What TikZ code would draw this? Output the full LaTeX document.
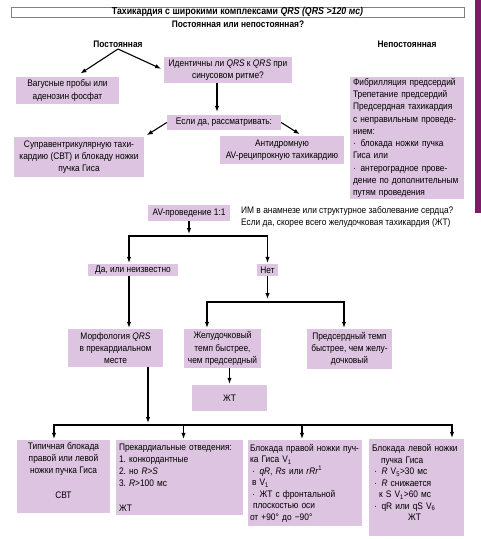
\documentclass[tikz,border=0pt]{standalone}
\usepackage{fontspec}
\setmainfont{Liberation Sans}[FakeStretch=0.88]
\usetikzlibrary{arrows.meta}

\definecolor{lilac}{RGB}{221,196,224}
\definecolor{plum}{RGB}{122,28,102}

\tikzset{
  box/.style={fill=lilac, inner sep=0pt, align=center},
  head/.style={font=\bfseries, inner sep=1.5pt},
  arr/.style={>={Latex[length=6pt,width=4.5pt]}, ->, line width=1.1pt},
}

\begin{document}
\frenchspacing
\fontsize{9.5}{12.3}\selectfont
\begin{tikzpicture}[x=1pt, y=-1pt]
\useasboundingbox (0,0) rectangle (481,539);
\fill[plum] (475,0) rectangle (481,213);

\node[draw=gray, line width=0.5pt, minimum width=453pt, minimum height=10pt, inner sep=0pt, font=\fontsize{10}{12}\selectfont\bfseries] (title) at (237.5,12) {Тахикардия с широкими комплексами \textit{QRS (QRS >120 мс)}};
\node[head] (question) at (238,24) {Постоянная или непостоянная?};
\node[head] (perm) at (118,44) {Постоянная};
\node[head] (nonperm) at (407,44) {Непостоянная};

\node[box, minimum width=103pt, minimum height=27pt] (vagus) at (67.5,90.5) {Вагусные пробы или\\аденозин фосфат};
\node[box, minimum width=128pt, minimum height=26pt] (ident) at (228,70) {Идентичны ли \textit{QRS} к \textit{QRS} при\\синусовом ритме?};
\node[box, minimum width=114pt, minimum height=15pt] (ifyes) at (224,122.5) {Если да, рассматривать:};
\node[box, minimum width=130pt, minimum height=40pt] (svt) at (79,157) {Суправентрикулярную тахи-\\кардию (СВТ) и блокаду ножки\\пучка Гиса};
\node[box, minimum width=124pt, minimum height=28pt] (antidr) at (282,150) {Антидромную\\AV-реципрокную тахикардию};
\node[box, text width=108pt, inner xsep=3pt, minimum height=122pt, align=left] (irreg) at (407,138) {Фибрилляция предсердий\\Трепетание предсердий\\Предсердная тахикардия\\с неправильным проведе-\\нием:\\·\enspace блокада ножки пучка\\Гиса или\\·\enspace антероградное прове-\\дение по дополнительным\\путям проведения};

\node[box, minimum width=82pt, minimum height=16pt] (avcond) at (189,213) {AV-проведение 1:1};
\node[anchor=west, inner sep=0pt, align=left] (history) at (241,217) {ИМ в анамнезе или структурное заболевание сердца?\\Если да, скорее всего желудочковая тахикардия (ЖТ)};
\node[box, minimum width=90pt, minimum height=12pt] (yesunk) at (133,270) {Да, или неизвестно};
\node[box, minimum width=21pt, minimum height=12pt] (no) at (267.5,270) {Нет};

\node[box, minimum width=95pt, minimum height=38pt] (morph) at (115.5,348) {Морфология \textit{QRS}\\в прекардиальном\\месте};
\node[box, minimum width=77pt, minimum height=39pt] (ventfast) at (222.5,348.5) {Желудочковый\\темп быстрее,\\чем предсердный};
\node[box, minimum width=85pt, minimum height=40pt] (atrfast) at (349.5,349) {Предсердный темп\\быстрее, чем желу-\\дочковый};
\node[box, minimum width=75pt, minimum height=26pt] (vt) at (229.5,398) {ЖТ};

\node[box, minimum width=93pt, minimum height=73pt] (typical) at (63.5,476.5) {Типичная блокада\\правой или левой\\ножки пучка Гиса\\[12.3pt]СВТ\\\mbox{}};
\node[box, text width=121pt, inner xsep=3pt, minimum height=75pt, align=left] (precord) at (179.5,477.5) {Прекардиальные отведения:\\1. конкордантные\\2. но \textit{R}>\textit{S}\\3. \textit{R}>100 мс\\[12.3pt]ЖТ};
\node[box, text width=110pt, inner xsep=2pt, minimum height=86pt, align=left, font=\fontsize{9.5}{11.5}\selectfont] (rbbb) at (305,483) {Блокада правой ножки пуч-\\ка Гиса V\textsubscript{1}\\\hspace*{2pt}·\enspace\textit{qR}, \textit{Rs} или \textit{rRr}\textsuperscript{1}\\\hspace*{2pt}в V\textsubscript{1}\\\hspace*{2pt}·\enspace ЖТ с фронтальной\\\hspace*{3pt}плоскостью оси\\от +90° до −90°};
\node[box, text width=89pt, inner xsep=3pt, minimum height=97pt, align=left, font=\fontsize{9.5}{11.5}\selectfont] (lbbb) at (416.5,487.5) {Блокада левой ножки\\\hspace*{9pt}пучка Гиса\\\hspace*{2pt}·\enspace\textit{R} V\textsubscript{5}>30 мс\\\hspace*{2pt}·\enspace\textit{R} снижается\\\hspace*{7pt}к S V\textsubscript{1}>60 мс\\\hspace*{2pt}·\enspace qR или qS V\textsubscript{6}\\\hspace*{36pt}ЖТ\\[-2pt]\mbox{}};

\coordinate (avsplit) at (189,236);
\coordinate (nosplit) at (267.5,302);
\coordinate (msplit) at (148,425);

\draw[arr, shorten >=6pt] (perm.south) -- (vagus.60);
\draw[arr, shorten >=3pt] (perm.south) -- (ident.west);
\draw[arr, shorten >=3pt] ([xshift=-11pt]ident.south) -- ([xshift=-11pt]ident.south |- ifyes.north);
\draw[arr, shorten >=3pt] (ifyes.west) -- (svt.north east);
\draw[arr, shorten >=3pt] (ifyes.east) -- (antidr.35);

\draw[arr, shorten >=2pt] (avcond.south) -- (avsplit);
\draw[arr, shorten >=1pt] (avsplit) -| ([xshift=-4pt]yesunk.north);
\draw[arr, shorten >=1pt] (avsplit) -| (no.north);
\draw[arr, shorten >=1pt] ([xshift=-4pt]yesunk.south) -- ([xshift=-4pt]yesunk.south |- morph.north);
\draw[arr, shorten >=3pt] (no.south) -- (nosplit);
\draw[arr, shorten >=1pt] (nosplit) -| ([xshift=-15.5pt]ventfast.north);
\draw[arr, shorten >=1pt] (nosplit) -| ([xshift=-5.5pt]atrfast.north);
\draw[arr, shorten >=1pt] (vt.north |- ventfast.south) -- (vt.north);

\draw[arr, shorten >=2pt] (morph.south -| msplit) -- (msplit);
\draw[arr, shorten >=1pt] (msplit) -| ([xshift=-9.5pt]typical.north);
\draw[arr, shorten >=1pt] (msplit) -| ([xshift=4pt]precord.north);
\draw[arr, shorten >=1pt] (msplit) -| ([xshift=-3pt]rbbb.north);
\draw[arr, shorten >=1pt] (msplit) -| ([xshift=35.5pt]lbbb.north);
\end{tikzpicture}
\end{document}
